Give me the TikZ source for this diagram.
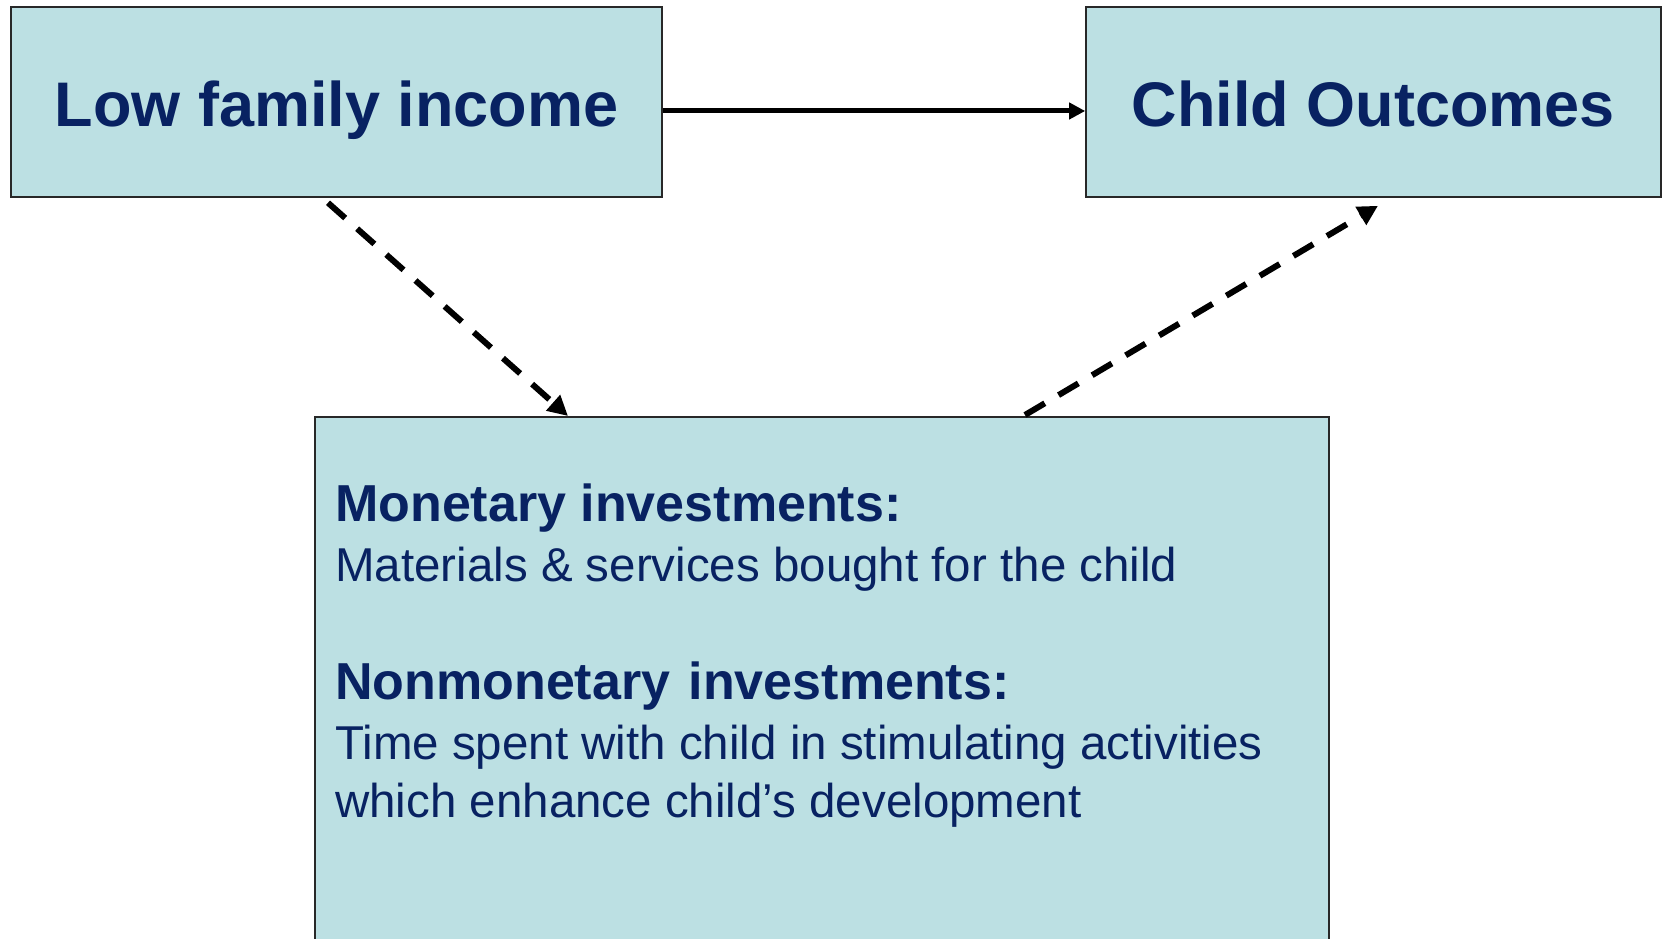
\documentclass[tikz,border=0pt]{standalone}
\usepackage{fontspec}
\setmainfont{Liberation Sans}
\usetikzlibrary{arrows.meta}
\definecolor{boxfill}{RGB}{188,224,227}
\definecolor{navy}{RGB}{8,34,98}
\definecolor{edge}{RGB}{40,40,40}
\tikzset{
  panel/.style={draw=edge, line width=1.6pt, fill=boxfill, rectangle, inner sep=0pt},
  headline/.style={font=\fontsize{63}{70}\selectfont\bfseries, text=navy, text height=50pt, text depth=0pt},
  subhead/.style={anchor=base west, font=\fontsize{52}{60}\selectfont\bfseries, text=navy, inner sep=0pt},
  bodyline/.style={anchor=base west, font=\fontsize{47.5}{56}\selectfont, text=navy, inner sep=0pt},
  link/.style={line width=5pt, -{Triangle[length=16pt,width=16pt]}},
  dashlink/.style={line width=6pt, dash pattern=on 23pt off 16pt, -{Triangle[length=20pt,width=20pt]}}
}
\begin{document}
\begin{tikzpicture}[x=1pt,y=1pt]
  \clip (0,0) rectangle (1663,939);
  \fill[white] (0,0) rectangle (1663,939);

  % the three boxes
  \node[panel, headline, minimum width=651pt, minimum height=190pt] (lowinc) at (336.5,837) {Low family income};
  \node[panel, headline, minimum width=575pt, minimum height=190pt] (outc) at (1373.5,837) {Child Outcomes};
  \node[panel, minimum width=1014pt, minimum height=560pt, anchor=north west] (invest) at (314,523) {};

  % contents of the investment box
  \node[subhead] (mon) at (335,417) {Monetary investments:};
  \node[bodyline] (monb) at (335,357) {Materials \& services bought for the child};
  \node[subhead] (nonmon) at (335,239) {Nonmonetary\hspace{4pt} investments:};
  \node[bodyline] (nonb1) at (335,179) {Time spent with child in stimulating activities};
  \node[bodyline] (nonb2) at (335,121) {which enhance child’s development};

  % connectors
  \draw[link] ([yshift=-9pt]lowinc.east) -- ([yshift=-9pt]outc.west);

  \coordinate (d1s) at ([xshift=-8.5pt,yshift=-5pt]lowinc.south);
  \coordinate (d1e) at ([xshift=254pt]invest.north west);
  \draw[dashlink] (d1s) -- (d1e);

  \coordinate (d2s) at ([xshift=711pt,yshift=1pt]invest.north west);
  \coordinate (d2e) at ([xshift=4.5pt,yshift=-8pt]outc.south);
  \draw[dashlink] (d2s) -- (d2e);
\end{tikzpicture}
\end{document}
